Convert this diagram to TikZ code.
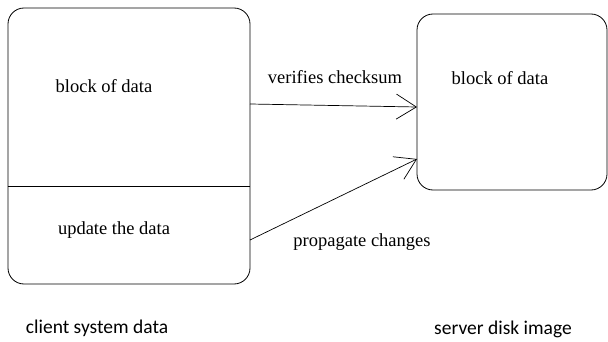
\documentclass[tikz,border=0pt]{standalone}
\usepackage{fontspec}
\setmainfont{Liberation Serif}
\newfontfamily\labelfont{Carlito}
\usetikzlibrary{arrows.meta}

\tikzset{
  store/.style={draw,rounded corners=16pt,inner sep=0pt,line width=0.8pt},
  txt/.style={font=\fontsize{18.5}{22}\selectfont,inner sep=0pt},
  caption/.style={font=\labelfont\fontsize{19.5}{23}\selectfont,inner sep=0pt},
  flow/.style={line width=0.7pt,-{Straight Barb[length=20pt,width=25pt,line width=0.7pt]}}
}

\begin{document}
\begin{tikzpicture}[x=1pt,y=-1pt]
  \useasboundingbox (0,0) rectangle (608,342);
  % client side
  \node[store,minimum width=242pt,minimum height=276pt] (client) at (129,146) {};
  \draw[line width=0.8pt] (client.west |- 0,186) -- (client.east |- 0,186);
  \node[txt] (cblock) at (104,86) {block of data};
  \node[txt] (cupdate) at (114,230) {update the data};
  % server side
  \node[store,minimum width=190pt,minimum height=176pt] (server) at (512,102) {};
  \node[txt] (sblock) at (500,78) {block of data};
  % arrows
  \coordinate (v1) at (250,104);
  \coordinate (v2) at (417,107);
  \coordinate (p1) at (250,240);
  \coordinate (p2) at (417,159);
  \draw[flow] (v1) -- (v2);
  \draw[flow] (p1) -- (p2);
  \node[txt] (verify) at (335,77) {verifies checksum};
  \node[txt] (prop) at (362,242) {propagate changes};
  % captions
  \node[caption] (cname) at (97,328) {client system data};
  \node[caption] (sname) at (503,329) {server disk image};
\end{tikzpicture}
\end{document}
